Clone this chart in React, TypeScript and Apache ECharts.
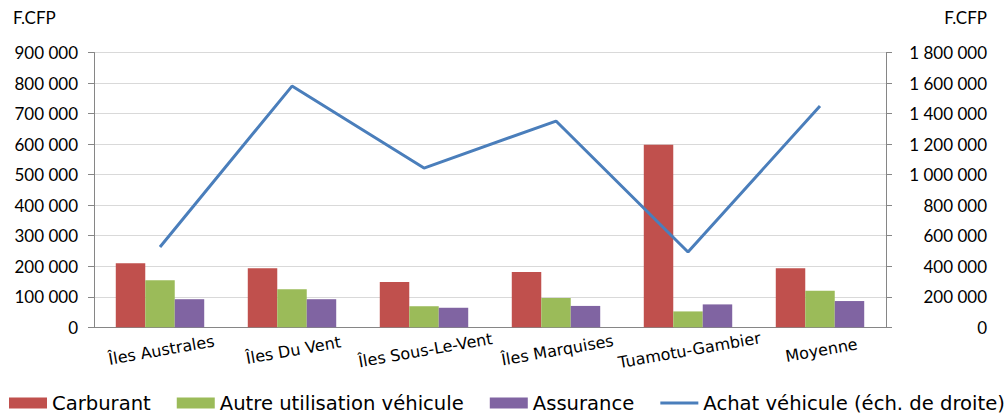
import React, { useEffect, useRef } from "react";
import * as echarts from "echarts";

const categories = ["Îles Australes", "Îles Du Vent", "Îles Sous-Le-Vent", "Îles Marquises", "Tuamotu-Gambier", "Moyenne"];
const carburant = [210000, 193000, 148000, 181000, 598000, 193000];
const autre = [154000, 125000, 69000, 96000, 52000, 120000];
const assurance = [92000, 92000, 64000, 70000, 75000, 86000];
const achat = [526000, 1580000, 1043000, 1351000, 493000, 1450000];
const leftTicks = { min: 0, max: 900000, interval: 100000 };
const rightTicks = { min: 0, max: 1800000, interval: 200000 };

const fmt = (v: number) => String(v).replace(/\B(?=(\d{3})+(?!\d))/g, " ");

export default function App() {
  const ref = useRef<HTMLDivElement>(null);
  useEffect(() => {
    const chart = echarts.init(ref.current!, null, { renderer: "svg" });
    const tickFont = { fontFamily: "Lato", fontSize: 17, color: "#000" };
    const legendText = { fontFamily: "DejaVu Sans", fontSize: 19.6, color: "#000" };
    chart.setOption({
      animation: false,
      grid: { left: 94, right: 120, top: 52.5, bottom: 86.7, containLabel: false },
      graphic: [
        { type: "text", left: 13, top: 9, style: { text: "F.CFP", font: "17px Lato", fill: "#000" } },
        { type: "text", right: 19, top: 9, style: { text: "F.CFP", font: "17px Lato", fill: "#000" } },
      ],
      legend: {
        left: 9,
        width: 1200,
        bottom: 1,
        padding: 0,
        itemWidth: 38,
        itemHeight: 11,
        itemGap: 26,
        textStyle: legendText,
        data: [
          { name: "Carburant", icon: "rect" },
          { name: "Autre utilisation véhicule", icon: "rect" },
          { name: "Assurance", icon: "rect" },
          { name: "Achat véhicule (éch. de droite)", icon: "path://M0 0H40V3H0Z" },
        ],
      },
      xAxis: {
        type: "category",
        data: categories,
        axisLine: { lineStyle: { color: "#868686", width: 1 } },
        axisTick: { show: false },
        axisLabel: {
          rotate: 10,
          align: "center",
          verticalAlign: "top",
          margin: 15,
          interval: 0,
          fontFamily: "DejaVu Sans",
          fontSize: 16,
          color: "#000",
        },
      },
      yAxis: [
        {
          type: "value",
          ...leftTicks,
          position: "left",
          axisLine: { show: true, lineStyle: { color: "#868686" } },
          axisTick: { show: true, length: 6, lineStyle: { color: "#868686" } },
          splitLine: { lineStyle: { color: "#d9d9d9" } },
          axisLabel: { ...tickFont, margin: 16, formatter: fmt },
        },
        {
          type: "value",
          ...rightTicks,
          position: "right",
          axisLine: { show: true, lineStyle: { color: "#868686" } },
          axisTick: { show: true, length: 6, lineStyle: { color: "#868686" } },
          splitLine: { show: false },
          axisLabel: { ...tickFont, align: "right", margin: 101, formatter: fmt },
        },
      ],
      series: [
        { name: "Carburant", type: "bar", data: carburant, itemStyle: { color: "#C0504D" }, barGap: "0%", barCategoryGap: "33%" },
        { name: "Autre utilisation véhicule", type: "bar", data: autre, itemStyle: { color: "#9BBB59" } },
        { name: "Assurance", type: "bar", data: assurance, itemStyle: { color: "#8064A2" } },
        {
          name: "Achat véhicule (éch. de droite)",
          type: "line",
          yAxisIndex: 1,
          data: achat,
          symbol: "none",
          lineStyle: { color: "#4A7EBB", width: 3 },
          itemStyle: { color: "#4A7EBB" },
        },
      ],
    });
    return () => chart.dispose();
  }, []);
  return <div ref={ref} style={{ width: 1006, height: 414, position: "absolute", left: 0, top: 0, background: "#fff" }} />;
}
